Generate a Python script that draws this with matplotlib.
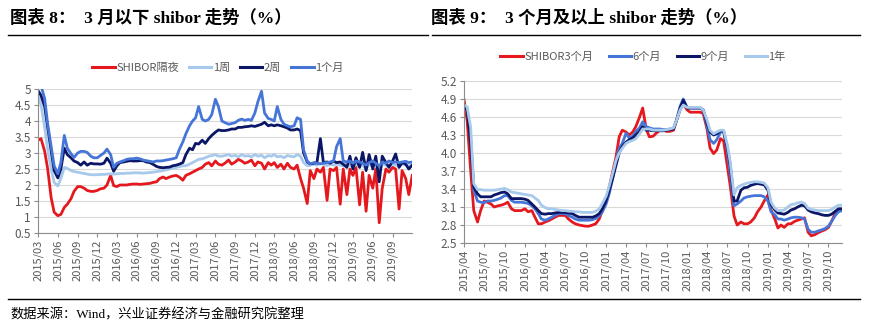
import numpy as np
import pandas as pd
import matplotlib
matplotlib.use("Agg")
import matplotlib.pyplot as plt
import matplotlib.dates as mdates
from matplotlib.lines import Line2D

plt.rcParams['font.family'] = ['Noto Sans CJK SC', 'DejaVu Sans']

# ---- left chart: shibor below 3 months, semi-monthly readings 2015/03 - 2019/12
left_dates = pd.date_range('2015-03-01', '2019-12-01', freq='SMS')

on = [3.4, 3.45, 3.05, 2.5, 1.6, 1.15, 1.04, 1.08, 1.3, 1.4, 1.57, 1.8,
      1.95, 1.95, 1.9, 1.83, 1.8, 1.8, 1.83, 1.88, 1.9, 2.0, 2.3, 1.98,
      1.95, 2.0, 2.0, 2.0, 2.02, 2.03, 2.03, 2.02, 2.03, 2.04, 2.05, 2.08,
      2.1, 2.2, 2.25, 2.2, 2.25, 2.28, 2.3, 2.25, 2.15, 2.3, 2.35, 2.4,
      2.45, 2.5, 2.55, 2.65, 2.7, 2.6, 2.75, 2.65, 2.62, 2.68, 2.78, 2.65,
      2.72, 2.8, 2.75, 2.68, 2.72, 2.78, 2.6, 2.72, 2.68, 2.5, 2.7, 2.62,
      2.7, 2.55, 2.65, 2.5, 2.68, 2.55, 2.5, 2.62, 2.2, 1.9, 1.42, 2.45,
      2.2, 2.5, 2.4, 2.55, 1.52, 2.5, 2.45, 2.55, 1.4, 2.5, 1.7, 2.5,
      2.3, 2.55, 1.38, 2.4, 1.18, 2.3, 1.9, 2.5, 0.82, 1.9, 2.5, 2.4,
      2.55, 2.5, 1.25, 2.45, 2.2, 1.7, 2.3]

w1 = [4.8, 4.5, 3.8, 3.1, 2.5, 2.08, 1.97, 2.2, 2.55, 2.52, 2.45, 2.42,
      2.4, 2.38, 2.36, 2.34, 2.32, 2.32, 2.32, 2.33, 2.33, 2.34, 2.35, 2.34,
      2.35, 2.36, 2.36, 2.37, 2.37, 2.38, 2.38, 2.38, 2.37, 2.38, 2.39, 2.4,
      2.42, 2.43, 2.45, 2.47, 2.5, 2.52, 2.55, 2.57, 2.6, 2.6, 2.65, 2.7,
      2.75, 2.8, 2.82, 2.85, 2.9, 2.92, 2.95, 2.9, 2.9, 2.92, 2.95, 2.9,
      2.93, 2.88, 2.95, 2.9, 2.92, 2.88, 2.95, 2.9, 2.93, 2.85, 2.92, 2.9,
      2.95, 2.88, 2.9, 2.85, 2.92, 2.9, 2.88, 2.95, 2.9, 2.7, 2.6, 2.62,
      2.65, 2.62, 2.68, 2.65, 2.6, 2.65, 2.62, 2.66, 2.62, 2.6, 2.65, 2.62,
      2.55, 2.65, 2.6, 2.62, 2.5, 2.65, 2.6, 2.62, 2.4, 2.65, 2.62, 2.6,
      2.65, 2.62, 2.6, 2.66, 2.63, 2.6, 2.62]

w2 = [4.95, 4.8, 4.45, 3.8, 3.07, 2.45, 2.22, 2.5, 3.15, 2.95, 2.85, 2.75,
      2.7, 2.62, 2.72, 2.62, 2.68, 2.66, 2.66, 2.65, 2.68, 2.84, 2.68, 2.43,
      2.6, 2.7, 2.72, 2.74, 2.76, 2.75, 2.75, 2.76, 2.76, 2.72, 2.7, 2.65,
      2.58, 2.55, 2.54, 2.55, 2.56, 2.6, 2.62, 2.65, 2.7, 2.95, 3.15, 3.1,
      3.3, 3.28, 3.4, 3.3, 3.45, 3.55, 3.65, 3.72, 3.7, 3.7, 3.72, 3.75,
      3.75, 3.8, 3.8, 3.82, 3.83, 3.85, 3.83, 3.86, 3.9, 3.96, 3.85, 3.88,
      3.85, 3.88, 3.85, 3.82, 3.78, 3.72, 3.72, 3.75, 3.7, 3.0, 2.72, 2.66,
      2.68, 2.7, 3.45, 2.7, 2.72, 2.68, 2.75, 2.7, 2.72, 2.65, 2.55, 2.9,
      2.5, 2.85, 2.55, 3.02, 2.45, 2.95, 2.5, 2.9, 2.1, 2.9, 2.7, 2.55,
      2.75, 2.97, 2.55, 2.7, 2.65, 2.5, 2.62]

m1 = [5.2, 5.1, 4.7, 3.9, 3.2, 2.6, 2.35, 2.7, 3.55, 3.15, 2.98, 2.86,
      3.0, 3.05, 3.05, 3.02, 2.9, 2.85, 2.85, 2.92, 3.0, 3.12, 2.95, 2.55,
      2.68, 2.72, 2.76, 2.8, 2.82, 2.82, 2.84, 2.82, 2.78, 2.76, 2.74, 2.72,
      2.75, 2.75, 2.76, 2.78, 2.8, 2.82, 2.85, 3.1, 3.35, 3.6, 3.85, 4.0,
      4.1, 4.45, 4.05, 4.0, 4.05, 4.2, 4.68, 4.45, 4.0, 3.95, 3.9, 3.92,
      3.95, 4.02, 4.06, 4.02, 4.05, 4.02, 4.25, 4.6, 4.93, 4.25, 4.08, 4.05,
      4.0, 4.45, 4.05, 3.9, 3.85, 3.82, 3.85, 4.1, 4.05, 3.1, 2.75, 2.66,
      2.7, 2.68, 2.66, 2.68, 2.7, 2.72, 2.75, 3.2, 3.45, 2.75, 2.72, 2.75,
      2.68, 2.75, 2.72, 2.68, 2.62, 2.7, 2.75, 2.68, 2.6, 2.72, 2.68, 2.75,
      2.7, 2.72, 2.7, 2.72, 2.74, 2.7, 2.72]

left_labels = ['SHIBOR隔夜', '1周', '2周', '1个月']

# ---- right chart: 3 months and above, semi-monthly readings 2015/04 - 2019/12
right_dates = pd.date_range('2015-04-01', '2019-12-01', freq='SMS')

m3 = [4.89, 4.55, 3.71, 3.04, 2.85, 3.04, 3.2, 3.18, 3.15, 3.1, 3.12, 3.13,
      3.15, 3.18, 3.07, 3.04, 3.04, 3.04, 3.07, 3.02, 3.04, 2.93, 2.82, 2.82,
      2.85, 2.87, 2.9, 2.93, 2.96, 2.96, 2.96, 2.9, 2.85, 2.82, 2.8, 2.79,
      2.78, 2.78, 2.8, 2.82, 2.9, 3.04, 3.2, 3.43, 3.71, 3.94, 4.27, 4.38,
      4.35, 4.3, 4.35, 4.44, 4.6, 4.75, 4.4, 4.27, 4.28, 4.33, 4.38, 4.38,
      4.36, 4.36, 4.38, 4.55, 4.72, 4.82, 4.72, 4.68, 4.68, 4.68, 4.68, 4.66,
      4.4, 4.08, 3.99, 4.05, 4.24, 4.2, 3.8, 3.45, 2.95, 2.8, 2.85, 2.82,
      2.82, 2.85, 2.92, 3.02, 3.1, 3.2, 3.3, 3.05, 2.9, 2.75, 2.8, 2.76,
      2.82, 2.82, 2.86, 2.88, 2.9, 2.92, 2.68, 2.62, 2.64, 2.67, 2.7, 2.72,
      2.76, 2.86, 3.0, 3.04, 3.05]

m6 = [4.77, 4.74, 4.27, 3.38, 3.2, 3.18, 3.17, 3.2, 3.2, 3.21, 3.23, 3.25,
      3.29, 3.29, 3.21, 3.18, 3.18, 3.18, 3.17, 3.16, 3.12, 3.07, 2.99, 2.9,
      2.88, 2.9, 2.93, 2.96, 2.99, 2.99, 2.99, 2.96, 2.93, 2.9, 2.88, 2.88,
      2.88, 2.88, 2.89, 2.91, 2.95, 3.02, 3.15, 3.32, 3.6, 3.88, 4.08, 4.16,
      4.33, 4.25, 4.28, 4.36, 4.42, 4.52, 4.44, 4.42, 4.4, 4.4, 4.4, 4.39,
      4.39, 4.4, 4.41, 4.55, 4.78, 4.9, 4.76, 4.75, 4.75, 4.75, 4.75, 4.72,
      4.45, 4.22, 4.16, 4.22, 4.35, 4.36, 4.05, 3.65, 3.12, 3.15, 3.2, 3.25,
      3.27, 3.28, 3.29, 3.29, 3.29, 3.27, 3.2, 3.02, 2.97, 2.9, 2.9, 2.88,
      2.9, 2.92, 2.93, 2.93, 2.92, 2.9, 2.73, 2.68, 2.68, 2.7, 2.72, 2.74,
      2.78, 2.86, 2.96, 3.02, 3.04]

m9 = [4.77, 4.72, 4.16, 3.43, 3.32, 3.27, 3.27, 3.27, 3.27, 3.3, 3.32, 3.34,
      3.35, 3.32, 3.24, 3.24, 3.24, 3.24, 3.23, 3.21, 3.15, 3.1, 3.04, 2.99,
      2.98, 2.99, 2.99, 3.0, 3.01, 3.01, 3.01, 3.0, 2.99, 2.96, 2.93, 2.93,
      2.93, 2.93, 2.93, 2.95, 2.99, 3.07, 3.21, 3.38, 3.6, 3.8, 4.0, 4.11,
      4.18, 4.22, 4.25, 4.3, 4.36, 4.44, 4.38, 4.38, 4.37, 4.37, 4.37, 4.37,
      4.38, 4.39, 4.4, 4.55, 4.75, 4.88, 4.75, 4.75, 4.75, 4.75, 4.75, 4.72,
      4.5, 4.35, 4.3, 4.32, 4.37, 4.36, 4.1, 3.8, 3.2, 3.2, 3.38, 3.42,
      3.43, 3.46, 3.48, 3.49, 3.48, 3.47, 3.38, 3.15, 3.05, 3.0, 2.99, 2.98,
      3.01, 3.05, 3.07, 3.1, 3.13, 3.12, 3.05, 3.02, 3.0, 2.99, 2.97, 2.96,
      2.96, 2.98, 3.03, 3.07, 3.07]

y1 = [4.8, 4.77, 4.43, 3.49, 3.39, 3.39, 3.38, 3.38, 3.38, 3.38, 3.39, 3.4,
      3.41, 3.39, 3.35, 3.34, 3.33, 3.32, 3.31, 3.3, 3.29, 3.25, 3.21, 3.13,
      3.09, 3.07, 3.07, 3.06, 3.05, 3.04, 3.04, 3.03, 3.03, 3.02, 3.02, 3.01,
      3.01, 3.01, 3.01, 3.03, 3.07, 3.16, 3.28, 3.45, 3.68, 3.88, 4.0, 4.08,
      4.16, 4.19, 4.21, 4.24, 4.32, 4.4, 4.4, 4.4, 4.38, 4.38, 4.38, 4.38,
      4.39, 4.4, 4.42, 4.55, 4.72, 4.8, 4.76, 4.76, 4.76, 4.76, 4.76, 4.72,
      4.55, 4.38, 4.32, 4.35, 4.38, 4.38, 4.15, 3.85, 3.3, 3.42, 3.46, 3.48,
      3.5, 3.51, 3.52, 3.52, 3.51, 3.5, 3.42, 3.18, 3.08, 3.04, 3.04, 3.05,
      3.1, 3.14, 3.15, 3.17, 3.18, 3.16, 3.08, 3.06, 3.05, 3.04, 3.04, 3.04,
      3.04, 3.06, 3.1, 3.13, 3.13]

right_labels = ['SHIBOR3个月', '6个月', '9个月', '1年']

RED = '#E5191D'
LIGHT = '#A7C9EB'
NAVY = '#0B1766'
BLUE = '#4675D8'
GREY = '#595959'

W, H = 870, 329
fig = plt.figure(figsize=(W / 100, H / 100), dpi=100)


def style_axis(ax, months):
    for s in ['top', 'right']:
        ax.spines[s].set_visible(False)
    for s in ['left', 'bottom']:
        ax.spines[s].set_color('#8C8C8C')
        ax.spines[s].set_linewidth(0.8)
    ax.grid(axis='y', color='#D9D9D9', linewidth=0.8)
    ax.set_axisbelow(True)
    ax.xaxis.set_major_locator(mdates.MonthLocator(bymonth=months))
    ax.xaxis.set_major_formatter(mdates.DateFormatter('%Y/%m'))
    ax.tick_params(axis='x', labelrotation=90, labelsize=8, colors=GREY,
                   length=3, color='#8C8C8C', pad=2)
    ax.tick_params(axis='y', labelsize=8.5, colors=GREY, length=3,
                   color='#8C8C8C', pad=2)


# left
ax1 = fig.add_axes([38 / W, 1 - 233 / H, 374 / W, 144 / H])
for vals, c in zip([on, w1, w2, m1], [RED, LIGHT, NAVY, BLUE]):
    ax1.plot(left_dates, vals, color=c, lw=2.0)
ax1.set_ylim(0.5, 5)
ax1.set_yticks(np.arange(0.5, 5.01, 0.5))
ax1.set_yticklabels(['0.5', '1', '1.5', '2', '2.5', '3', '3.5', '4', '4.5', '5'])
ax1.set_xlim(left_dates[0], pd.Timestamp('2019-11-30'))
style_axis(ax1, [3, 6, 9, 12])

handles = [Line2D([], [], color=c, lw=2.2) for c in [RED, LIGHT, NAVY, BLUE]]
leg = fig.legend(handles, left_labels, loc='center', ncol=4, frameon=False,
                 bbox_to_anchor=(218 / W, 1 - 68 / H), fontsize=8,
                 handlelength=2.0, handletextpad=0.15, columnspacing=0.9)
for t in leg.get_texts():
    t.set_color(GREY)

# right
ax2 = fig.add_axes([464 / W, 1 - 243 / H, 378 / W, 162 / H])
for vals, c in zip([m3, m6, m9, y1], [RED, BLUE, NAVY, LIGHT]):
    ax2.plot(right_dates, vals, color=c, lw=2.0)
ax2.set_ylim(2.5, 5.2)
ax2.set_yticks(np.arange(2.5, 5.21, 0.3))
ax2.yaxis.set_major_formatter(matplotlib.ticker.FormatStrFormatter('%.1f'))
ax2.set_xlim(right_dates[0], right_dates[-1])
style_axis(ax2, [1, 4, 7, 10])

handles = [Line2D([], [], color=c, lw=2.2) for c in [RED, BLUE, NAVY, LIGHT]]
leg = fig.legend(handles, right_labels, loc='center', ncol=4, frameon=False,
                 bbox_to_anchor=(643 / W, 1 - 57 / H), fontsize=8,
                 handlelength=2.0, handletextpad=0.15, columnspacing=1.4)
for t in leg.get_texts():
    t.set_color(GREY)

# titles, rules, source
title_font = ['Liberation Serif', 'Noto Sans CJK SC']
fig.text(10 / W, 1 - 18 / H, '图表 8：  3 月以下 shibor 走势（%）', family=title_font,
         fontsize=12.5, fontweight='bold', va='center', ha='left')
fig.text(431 / W, 1 - 18 / H, '图表 9：  3 个月及以上 shibor 走势（%）', family=title_font,
         fontsize=12.5, fontweight='bold', va='center', ha='left')
for x0, x1 in [(8, 428), (432, 860)]:
    fig.add_artist(Line2D([x0 / W, x1 / W], [1 - 34.5 / H] * 2,
                          transform=fig.transFigure, color='black', lw=1.0))
fig.add_artist(Line2D([8 / W, 860 / W], [1 - 298.5 / H] * 2,
                      transform=fig.transFigure, color='black', lw=1.0))
fig.text(10 / W, 1 - 315 / H, '数据来源：Wind，兴业证券经济与金融研究院整理',
         family=title_font, fontsize=9.5, va='center', ha='left')

fig.savefig('out.png', dpi=100)
